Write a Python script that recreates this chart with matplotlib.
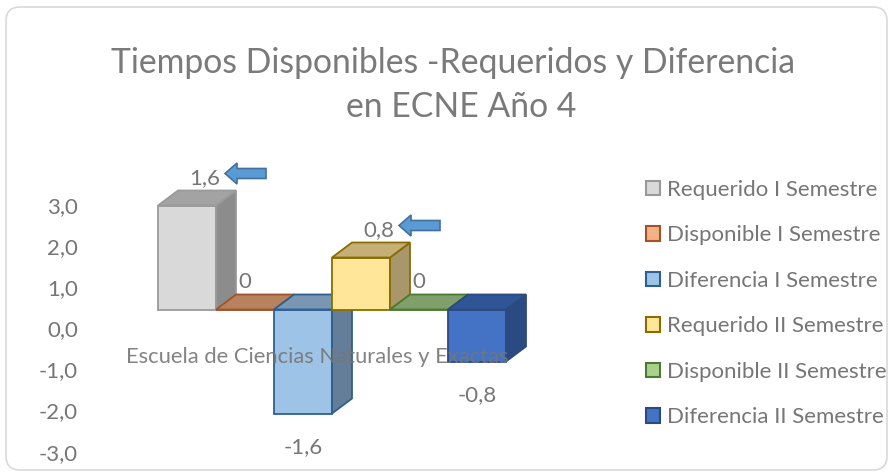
import matplotlib
matplotlib.use('Agg')
from matplotlib import pyplot as plt
from matplotlib.patches import Polygon, Patch, FancyBboxPatch, FancyArrow
from matplotlib.transforms import IdentityTransform

# DATA
series_names = ['Requerido I Semestre', 'Disponible I Semestre', 'Diferencia I Semestre',
                'Requerido II Semestre', 'Disponible II Semestre', 'Diferencia II Semestre']
values = [1.6, 0.0, -1.6, 0.8, 0.0, -0.8]
value_labels = ['1,6', '0', '-1,6', '0,8', '0', '-0,8']
category = 'Escuela de Ciencias Naturales y Exactas'
axis_ticks = [-3, -2, -1, 0, 1, 2, 3]
flagged = ['Requerido I Semestre', 'Requerido II Semestre']
title_lines = ['Tiempos Disponibles -Requeridos y Diferencia', 'en ECNE Año 4']

# STYLES
FRONT = ['#d9d9d9', '#f4b183', '#9dc3e6', '#ffe699', '#a9d18e', '#4472c4']
SIDE = ['#8c8c8c', '#a8754f', '#647d99', '#a8976a', '#6f8f5a', '#2c4a82']
TOP = ['#a3a3a3', '#b7835f', '#7996b3', '#c4b077', '#7f9f6b', '#2f5596']
EDGE = ['#9a9a9a', '#a0522d', '#2e5f8f', '#8a6d00', '#4d7a32', '#2a4a80']
TXT = '#767676'
FONT = 'Lato'

W, H = 893, 473
fig = plt.figure(figsize=(W / 100, H / 100), dpi=100)
plt.rcParams['font.family'] = [FONT, 'DejaVu Sans']

# rounded chart border
fig.add_artist(FancyBboxPatch((6, 3), 881, 463, boxstyle='round,pad=0,rounding_size=14',
                              transform=IdentityTransform(), fc='white', ec='#d9d9d9', lw=1.2, zorder=0))

# plot area in pixels
px_left, px_width = 100, 464
px_top, px_bottom = 205, 451.7
pos = [px_left / W, (H - px_bottom) / H, px_width / W, (px_bottom - px_top) / H]

# value axis (back wall)
ax = fig.add_axes(pos)
ax.set_xlim(-1, 7)
ax.set_ylim(-3, 3)
ax.set_yticks(axis_ticks)
ax.set_yticklabels([f'{t:.1f}'.replace('.', ',') for t in axis_ticks])
ax.tick_params(axis='y', length=0, pad=16, labelsize=16, labelcolor=TXT)
ax.set_xticks([])
for s in ax.spines.values():
    s.set_visible(False)
ax.patch.set_visible(False)

# bars axis (front faces, perspective scale)
zero_px = 309.5
unit_px = 65.0
slot_px = px_width / 8
frac0 = (px_bottom - zero_px) / (px_bottom - px_top)
span = (px_bottom - px_top) / unit_px
bx = fig.add_axes(pos)
bx.set_xlim(-1, 7)
bx.set_ylim(-frac0 * span, (1 - frac0) * span)
bx.axis('off')

DX = 20 / slot_px
DY = 15 / unit_px

for i, v in enumerate(values):
    z = 10 + i
    bx.bar(i, v, width=1, align='edge', color=FRONT[i], edgecolor=EDGE[i], lw=1.3, zorder=z, clip_on=False)
    top_y = max(v, 0)
    bot_y = min(v, 0)
    top_face = [(i, top_y), (i + 1, top_y), (i + 1 + DX, top_y + DY), (i + DX, top_y + DY)]
    side_face = [(i + 1, bot_y), (i + 1 + DX, bot_y + DY), (i + 1 + DX, top_y + DY), (i + 1, top_y)]
    if v != 0:
        bx.add_patch(Polygon(side_face, closed=True, fc=SIDE[i], ec=EDGE[i], lw=1.3, zorder=z, clip_on=False))
    bx.add_patch(Polygon(top_face, closed=True, fc=TOP[i], ec=EDGE[i], lw=1.3, zorder=z, clip_on=False))

# data labels
label_pos = []
for i, (v, lab) in enumerate(zip(values, value_labels)):
    if v > 0:
        off = (18, 27)
    elif v < 0:
        off = (0, -34)
    else:
        off = (0, 28)
    bx.annotate(lab, (i + 0.5, v), xytext=off, textcoords='offset pixels',
                ha='center', va='center', fontsize=16, color=TXT, zorder=30, annotation_clip=False)
    label_pos.append(bx.transData.transform((i + 0.5, v)) + off)

# blue arrows pointing at flagged labels
for name in flagged:
    k = series_names.index(name)
    lx, ly = label_pos[k]
    tip_x, tip_y = lx + 20, ly + 5
    fig.add_artist(FancyArrow(tip_x + 41, tip_y, -41, 0, width=10, head_width=21, head_length=12,
                              length_includes_head=True, transform=IdentityTransform(),
                              fc='#5b9bd5', ec='#41719c', lw=1.2, zorder=40))

# category label
bx.annotate(category, (2.75, 0), xytext=(0, -47), textcoords='offset pixels',
            ha='center', va='center', fontsize=15.8, color=TXT, alpha=0.9, zorder=50)

# title
fig.text(453 / W, (H - 63) / H, title_lines[0], ha='center', va='center',
         fontsize=24.3, color='#7a7a7a')
fig.text(461 / W, (H - 107) / H, title_lines[1], ha='center', va='center',
         fontsize=24.3, color='#7a7a7a')

# legend
handles = [Patch(facecolor=FRONT[i], edgecolor=EDGE[i], lw=1.5) for i in range(len(series_names))]
leg = fig.legend(handles, series_names, loc='upper left', bbox_to_anchor=(646 / W, (H - 180) / H),
                 frameon=False, borderpad=0, borderaxespad=0, handlelength=0.63, handleheight=0.63,
                 handletextpad=0.32, labelspacing=1.145, fontsize=16)
for t in leg.get_texts():
    t.set_color(TXT)

fig.savefig('out.png', dpi=100)
plt.close(fig)
